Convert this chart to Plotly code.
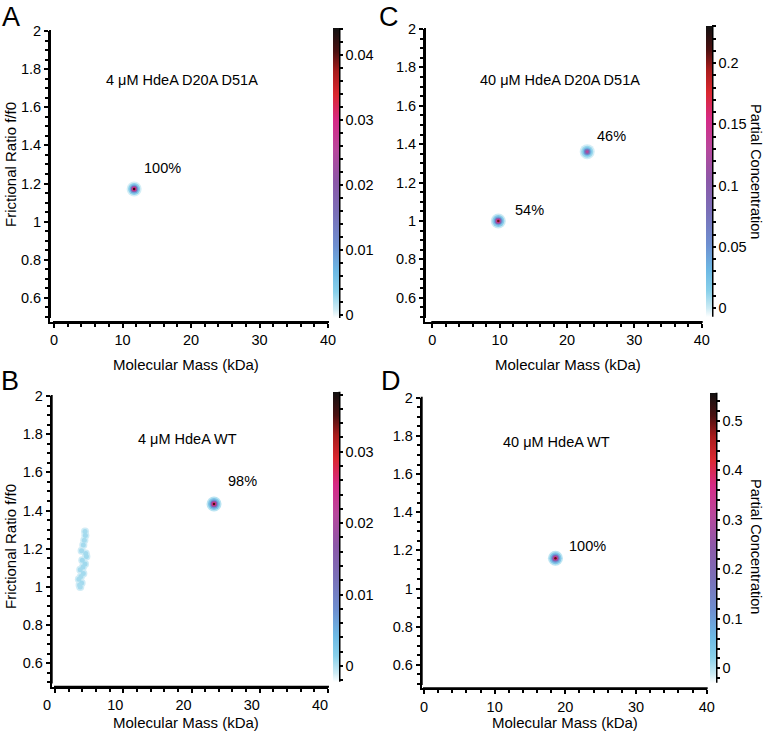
import plotly.graph_objects as go
import numpy as np

W, H = 765, 734
FONT = "Liberation Sans, Arial, sans-serif"

# ---------------- data ----------------
# Panel A: 4 uM HdeA D20A D51A
a_mass = [11.7]
a_ratio = [1.171]
a_conc = [0.042]
a_pct = ["100%"]
a_pct_x = [15.8]
a_pct_y = [1.28]

# Panel B: 4 uM HdeA WT
b_mass = [23.3]
b_ratio = [1.434]
b_conc = [0.035]
b_pct = ["98%"]
b_pct_x = [27.4]
b_pct_y = [1.555]
b_minor_mass = [4.4, 4.45, 4.3, 4.15, 3.9, 4.5, 4.6, 4.0, 4.4, 4.1, 3.7, 4.15, 3.8, 3.5, 3.9, 3.6, 3.7]
b_minor_ratio = [1.29, 1.27, 1.245, 1.22, 1.19, 1.175, 1.16, 1.14, 1.12, 1.105, 1.09, 1.07, 1.055, 1.04, 1.02, 1.01, 1.0]
b_minor_conc = [0.0009, 0.0010, 0.0009, 0.0010, 0.0009, 0.0010, 0.0011, 0.0010, 0.0011,
                0.0010, 0.0009, 0.0010, 0.0009, 0.0009, 0.0010, 0.0008, 0.0008]

# Panel C: 40 uM HdeA D20A D51A
c_mass = [9.8, 23.0]
c_ratio = [1.0, 1.361]
c_conc = [0.205, 0.13]
c_pct = ["54%", "46%"]
c_pct_x = [14.4, 26.6]
c_pct_y = [1.057, 1.442]

# Panel D: 40 uM HdeA WT
d_mass = [18.6]
d_ratio = [1.159]
d_conc = [0.50]
d_pct = ["100%"]
d_pct_x = [23.2]
d_pct_y = [1.223]

titles = ["4 μM HdeA D20A D51A", "4 μM HdeA WT", "40 μM HdeA D20A D51A", "40 μM HdeA WT"]
title_x = [18.7, 19.4, 19.0, 18.7]
title_y = [1.743, 1.775, 1.734, 1.77]
letters = ["A", "B", "C", "D"]

x_ticks = [0, 10, 20, 30, 40]
y_ticks = [0.6, 0.8, 1, 1.2, 1.4, 1.6, 1.8, 2]

cbar_min = [-0.0005, -0.0022, -0.0069, -0.029]
cbar_max = [0.0442, 0.0384, 0.2305, 0.557]
cbar_major = [[0, 0.01, 0.02, 0.03, 0.04],
              [0, 0.01, 0.02, 0.03],
              [0, 0.05, 0.1, 0.15, 0.2],
              [0, 0.1, 0.2, 0.3, 0.4, 0.5]]
cbar_labels = [["0", "0.01", "0.02", "0.03", "0.04"],
               ["0", "0.01", "0.02", "0.03"],
               ["0", "0.05", "0.1", "0.15", "0.2"],
               ["0", "0.1", "0.2", "0.3", "0.4", "0.5"]]
cbar_minor_step = [0.002, 0.002, 0.01, 0.02]
cbar_title = ["", "", "Partial Concentration", "Partial Concentration"]

# ---------------- styling / geometry (pixels) ----------------
# x0/x1: pixel of mass 0 / 40; yt/yb: pixel of ratio 2.0 / 0.5;
# yl: x of y-axis line; xl: y of x-axis line; cx/ct/cb: colorbar left, top, bottom
geom = [
    dict(x0=54, x1=328, yt=31, yb=317, yl=50, xl=322, cx=333, ct=28.3, cb=318, shift=0),
    dict(x0=55, x1=328, yt=396, yb=682.4, yl=51.7, xl=686.7, cx=333, ct=391.7, cb=681.7, shift=-8),
    dict(x0=432.3, x1=701.7, yt=29, yb=316.9, yl=425, xl=322, cx=706, ct=26, cb=316.7, shift=0),
    dict(x0=424, x1=706.7, yt=397.7, yb=684, yl=421.7, xl=688.3, cx=710, ct=392.7, cb=682.7, shift=0),
]
letter_pos = [(11, 0, "top"), (10, 381, "middle"), (389, 0, "top"), (391, 381, "middle")]
xtitle_pos = [(186, 364), (186, 722), (568, 364), (565, 722)]
ytitle_pos = [(10, 165), (10, 547)]
ctitle_pos = [None, None, (756, 171), (756, 546)]

cscale = [
    [0.0, '#ffffff'],
    [0.03, '#cdebf4'],
    [0.09, '#88d0ea'],
    [0.16, '#6db9e4'],
    [0.25, '#6e8fd0'],
    [0.36, '#7a70b8'],
    [0.47, '#8c58a8'],
    [0.58, '#b8479c'],
    [0.68, '#d62a86'],
    [0.77, '#da2830'],
    [0.85, '#a81c1c'],
    [0.92, '#4a1010'],
    [1.0, '#111111'],
]


def px(x):
    return x / W


def py(y):
    return 1 - y / H


fig = go.Figure()

major = [(a_mass, a_ratio, a_conc), (b_mass, b_ratio, b_conc),
         (c_mass, c_ratio, c_conc), (d_mass, d_ratio, d_conc)]
pcts = [(a_pct, a_pct_x, a_pct_y), (b_pct, b_pct_x, b_pct_y),
        (c_pct, c_pct_x, c_pct_y), (d_pct, d_pct_x, d_pct_y)]

layers = [(15, 0.04, 0.6), (12, 0.09, 0.9), (9, 0.2, 1.0), (6.5, 0.45, 1.0), (4.5, 0.7, 1.0), (2.5, 1.0, 1.0)]

annotations = []
shapes = []
layout = {}
txtfont = dict(family=FONT, size=14.5, color="black")
titlefont = dict(family=FONT, size=15, color="black")

for i in range(4):
    g = geom[i]
    sfx = "" if i == 0 else str(i + 1)
    xa, ya, ca = "x" + sfx, "y" + sfx, "coloraxis" + sfx

    # minor cluster (panel B only)
    if i == 1:
        fig.add_trace(go.Scatter(
            x=b_minor_mass, y=b_minor_ratio, mode="markers",
            marker=dict(size=8, color=[c * 0.6 for c in b_minor_conc], coloraxis=ca, line_width=0),
            opacity=0.5, xaxis=xa, yaxis=ya, hoverinfo="skip", showlegend=False))
        fig.add_trace(go.Scatter(
            x=b_minor_mass, y=b_minor_ratio, mode="markers",
            marker=dict(size=5, color=b_minor_conc, coloraxis=ca, line_width=0),
            opacity=0.75, xaxis=xa, yaxis=ya, hoverinfo="skip", showlegend=False))

    m, r, c = major[i]
    for size, f, op in layers:
        fig.add_trace(go.Scatter(
            x=m, y=r, mode="markers",
            marker=dict(size=size, color=[v * f for v in c], coloraxis=ca, line_width=0),
            opacity=op, xaxis=xa, yaxis=ya, hoverinfo="skip", showlegend=False))

    # axes: domains extended to the offset axis lines, ranges extended to match
    kx = (g["x1"] - g["x0"]) / 40.0
    ky = (g["yb"] - g["yt"]) / 1.5
    xlo = -(g["x0"] - g["yl"]) / kx
    ylo = 0.5 - (g["xl"] - g["yb"]) / ky

    axis_common = dict(
        showline=True, linewidth=2, linecolor="#000000", mirror=False, ticks="outside",
        ticklen=4, tickwidth=2, tickcolor="#000000", showgrid=False, zeroline=False,
        layer="above traces",
        tickfont=dict(family=FONT, size=14.5, color="black"),
    )
    layout["xaxis" + sfx] = dict(
        axis_common, domain=[px(g["yl"]), px(g["x1"])], range=[xlo, 40],
        tickvals=x_ticks, anchor=ya, ticklabelshift=g["shift"],
        minor=dict(tickvals=list(range(2, 40, 2)), ticks="outside", ticklen=3, tickwidth=2, tickcolor="black"),
    )
    layout["yaxis" + sfx] = dict(
        axis_common, domain=[py(g["xl"]), py(g["yt"])], range=[ylo, 2],
        tickvals=y_ticks, anchor=xa,
        minor=dict(dtick=0.05, tick0=0, ticks="outside", ticklen=3, tickwidth=2, tickcolor="black"),
    )
    # solid axis strokes (paper coordinates)
    shapes.append(dict(type="rect", xref="paper", yref="paper", layer="above",
                       x0=px(g["x0"] - 1), x1=px(g["x1"] + 1), y0=py(g["xl"] + 1), y1=py(g["xl"] - 1),
                       line=dict(width=0), fillcolor="black"))
    shapes.append(dict(type="rect", xref="paper", yref="paper", layer="above",
                       x0=px(g["yl"] - 1), x1=px(g["yl"] + 1), y0=py(g["yb"] + 1), y1=py(g["yt"] - 1),
                       line=dict(width=0), fillcolor="black"))

    # colorbar
    lo, hi = cbar_min[i], cbar_max[i]
    step = cbar_minor_step[i]
    minor_vals = [v for v in np.arange(np.ceil(lo / step) * step, hi + 1e-12, step)]
    tv = list(cbar_major[i]) + [float(v) for v in minor_vals
                                if all(abs(v - mj) > step / 4 for mj in cbar_major[i])]
    tt = list(cbar_labels[i]) + [""] * (len(tv) - len(cbar_major[i]))
    cb = dict(
        x=px(g["cx"]), xanchor="left", xpad=0, ypad=0,
        y=py(g["cb"]), yanchor="bottom", len=(g["cb"] - g["ct"]) / H, lenmode="fraction",
        thickness=6, thicknessmode="pixels", outlinewidth=0,
        ticks="outside", ticklen=4, tickwidth=1.5, tickcolor="black",
        tickvals=tv, ticktext=tt,
        tickfont=dict(family=FONT, size=14.5, color="black"),
    )
    layout[ca] = dict(colorscale=cscale, cmin=lo, cmax=hi, colorbar=cb)
    shapes.append(dict(type="rect", xref="paper", yref="paper", layer="above",
                       x0=px(g["cx"] + 5.5), x1=px(g["cx"] + 7.5),
                       y0=py(g["cb"]), y1=py(g["ct"]),
                       line=dict(width=0), fillcolor="black"))
    if cbar_title[i]:
        tx, ty = ctitle_pos[i]
        annotations.append(dict(x=px(tx), y=py(ty), xref="paper", yref="paper",
                                text=cbar_title[i], showarrow=False, textangle=90,
                                xanchor="center", yanchor="middle",
                                font=dict(family=FONT, size=14.5, color="black")))

    # in-panel texts
    annotations.append(dict(x=title_x[i], y=title_y[i], xref=xa, yref=ya, text=titles[i],
                            showarrow=False, font=txtfont))
    ptxt, pxs, pys = pcts[i]
    for t, xx, yy in zip(ptxt, pxs, pys):
        annotations.append(dict(x=xx, y=yy, xref=xa, yref=ya, text=t, showarrow=False, font=txtfont))

# panel letters and axis titles
for i in range(4):
    lx, ly, anc = letter_pos[i]
    annotations.append(dict(x=px(lx), y=py(ly), xref="paper", yref="paper", text=letters[i],
                            showarrow=False, xanchor="center", yanchor=anc,
                            font=dict(family=FONT, size=27, color="black")))
    tx, ty = xtitle_pos[i]
    annotations.append(dict(x=px(tx), y=py(ty), xref="paper", yref="paper",
                            text="Molecular Mass (kDa)", showarrow=False,
                            xanchor="center", yanchor="middle", font=titlefont))
for tx, ty in ytitle_pos:
    annotations.append(dict(x=px(tx), y=py(ty), xref="paper", yref="paper",
                            text="Frictional Ratio f/f0", showarrow=False, textangle=-90,
                            xanchor="center", yanchor="middle", font=titlefont))

fig.update_layout(
    width=W, height=H, template="none",
    paper_bgcolor="white", plot_bgcolor="white",
    margin=dict(l=0, r=0, t=0, b=0, autoexpand=False),
    font=dict(family=FONT, size=14, color="black"),
    annotations=annotations, shapes=shapes, showlegend=False,
    **layout,
)

fig.write_html("out.html", config={"displayModeBar": False},
               post_script="document.body.style.margin='0px';document.body.style.overflow='hidden';")
